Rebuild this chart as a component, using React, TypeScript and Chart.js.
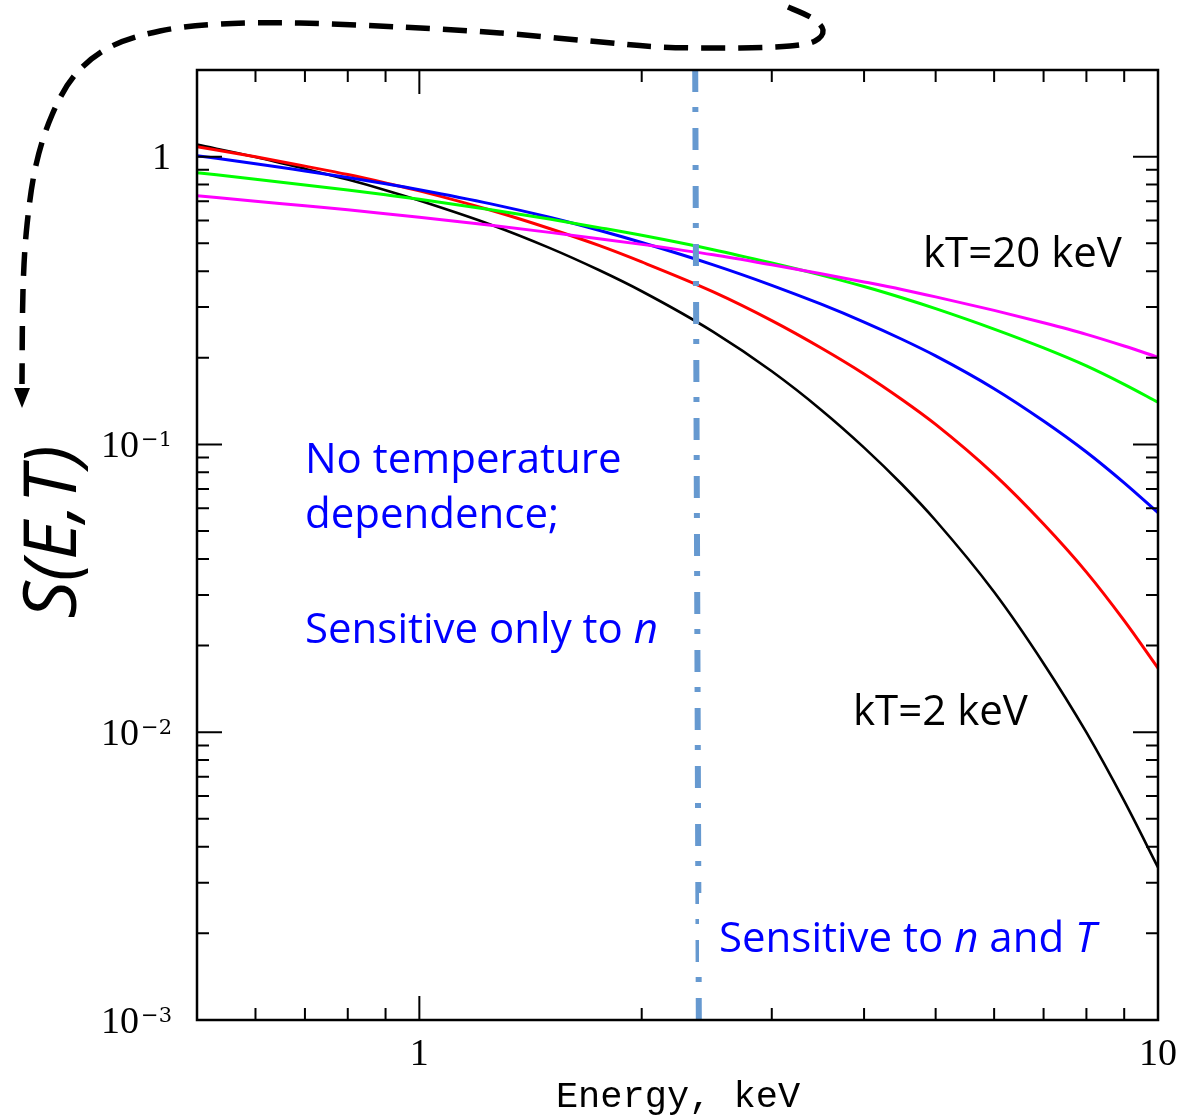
import { useEffect, useRef } from 'react';
import { Chart, registerables } from 'chart.js';

Chart.register(...registerables);

// ---------- data ----------
const energies = [0.5, 0.6, 0.7, 0.8, 0.9, 1, 1.25, 1.5, 1.75, 2, 2.5, 3, 3.5, 4, 4.5, 5, 6, 7, 8, 9, 10];
const sBlack = [1.101, 0.9976, 0.9075, 0.8322, 0.7646, 0.7037, 0.5800, 0.4819, 0.4036, 0.3406, 0.2461, 0.1795, 0.1318, 0.0975, 0.0727, 0.0544, 0.0307, 0.01734, 0.00998, 0.00577, 0.00339];
const sRed = [1.0835, 0.9992, 0.9267, 0.8662, 0.8101, 0.7602, 0.6509, 0.5626, 0.4914, 0.4306, 0.3390, 0.2694, 0.2164, 0.1758, 0.1433, 0.1174, 0.0787, 0.0529, 0.0360, 0.02442, 0.01671];
const sBlue = [1.008, 0.9454, 0.8913, 0.8463, 0.8051, 0.7675, 0.6854, 0.6154, 0.5548, 0.5030, 0.4207, 0.3572, 0.3070, 0.2661, 0.2320, 0.2031, 0.1562, 0.1206, 0.0941, 0.0735, 0.0579];
const sGreen = [0.8796, 0.8348, 0.7975, 0.7656, 0.7366, 0.7107, 0.6540, 0.6070, 0.5667, 0.5327, 0.4748, 0.4268, 0.3876, 0.3537, 0.3233, 0.2963, 0.2516, 0.2164, 0.1874, 0.1617, 0.1401];
const sMagenta = [0.7314, 0.7003, 0.6745, 0.6532, 0.6335, 0.6160, 0.5776, 0.5455, 0.5187, 0.4956, 0.4558, 0.4207, 0.3917, 0.3670, 0.3456, 0.3257, 0.2922, 0.2646, 0.2412, 0.2197, 0.2009];

// boundary between regimes (dash-dot line)
const boundaryEnergy = [2.363, 2.39];
const boundaryS = [2, 0.00093];

// axes
const xMin = 0.5, xMax = 10;
const yMin = 0.001, yMax = 2;
const xTickValues = [0.5, 0.6, 0.7, 0.8, 0.9, 1, 2, 3, 4, 5, 6, 7, 8, 9, 10];
const xLabelValues = [1, 10];
const xLabelTexts = ['1', '10'];
const yTickValues = [
  0.001, 0.002, 0.003, 0.004, 0.005, 0.006, 0.007, 0.008, 0.009,
  0.01, 0.02, 0.03, 0.04, 0.05, 0.06, 0.07, 0.08, 0.09,
  0.1, 0.2, 0.3, 0.4, 0.5, 0.6, 0.7, 0.8, 0.9,
  1, 2,
];
const yLabelValues = [1, 0.1, 0.01, 0.001];
const yLabelBases = ['1', '10', '10', '10'];
const yLabelExps = ['', '\u22121', '\u22122', '\u22123'];

const SANS = '"Open Sans", "Noto Sans", sans-serif';
const SERIF = '"Liberation Serif", "DejaVu Serif", serif';
const EXPSERIF = '"DejaVu Serif", "Liberation Serif", serif';
const MONO = '"Liberation Mono", "DejaVu Sans Mono", monospace';
const BLUE_TXT = '#0000ff';

type Seg = { t: string; i?: boolean };

function drawRich(ctx: CanvasRenderingContext2D, segs: Seg[], x: number, y: number, size: number, color: string) {
  ctx.fillStyle = color;
  ctx.textAlign = 'left';
  ctx.textBaseline = 'alphabetic';
  let cx = x;
  for (const s of segs) {
    ctx.font = `${s.i ? 'italic ' : ''}${size}px ${SANS}`;
    ctx.fillText(s.t, cx, y);
    cx += ctx.measureText(s.t).width;
  }
}

function smoothPath(ctx: CanvasRenderingContext2D, pts: number[][]) {
  ctx.moveTo(pts[0][0], pts[0][1]);
  for (let i = 0; i < pts.length - 1; i++) {
    const p0 = pts[i - 1] || pts[i];
    const p1 = pts[i];
    const p2 = pts[i + 1];
    const p3 = pts[i + 2] || p2;
    ctx.bezierCurveTo(
      p1[0] + (p2[0] - p0[0]) / 6, p1[1] + (p2[1] - p0[1]) / 6,
      p2[0] - (p3[0] - p1[0]) / 6, p2[1] - (p3[1] - p1[1]) / 6,
      p2[0], p2[1]
    );
  }
}

const decorPlugin = {
  id: 'decor',
  afterDraw(chart: any) {
    const { ctx, chartArea: a, scales } = chart;
    const xs = scales.x;
    const ys = scales.y;
    ctx.save();

    // white box behind lower-right annotation
    ctx.fillStyle = '#ffffff';
    ctx.fillRect(699, 893, 408, 80);

    // annotations
    const fs = 42;
    drawRich(ctx, [{ t: 'No temperature' }], 305, 473, fs, BLUE_TXT);
    drawRich(ctx, [{ t: 'dependence;' }], 305, 528, fs, BLUE_TXT);
    drawRich(ctx, [{ t: 'Sensitive only to ' }, { t: 'n', i: true }], 305, 643, fs, BLUE_TXT);
    drawRich(ctx, [{ t: 'Sensitive to ' }, { t: 'n', i: true }, { t: ' and ' }, { t: 'T', i: true }], 719, 952, fs, BLUE_TXT);
    drawRich(ctx, [{ t: 'kT=20 keV' }], 923, 267, fs, '#000000');
    drawRich(ctx, [{ t: 'kT=2 keV' }], 853, 725, fs, '#000000');

    // frame
    ctx.strokeStyle = '#000';
    ctx.lineWidth = 2.5;
    ctx.setLineDash([]);
    ctx.strokeRect(a.left, a.top, a.right - a.left, a.bottom - a.top);

    // ticks
    ctx.lineWidth = 2;
    ctx.beginPath();
    xs.ticks.forEach((t: any) => {
      const px = xs.getPixelForValue(t.value);
      const len = xLabelValues.includes(t.value) ? 24 : 12;
      ctx.moveTo(px, a.bottom); ctx.lineTo(px, a.bottom - len);
      ctx.moveTo(px, a.top); ctx.lineTo(px, a.top + len);
    });
    ys.ticks.forEach((t: any) => {
      const py = ys.getPixelForValue(t.value);
      const len = yLabelValues.includes(t.value) ? 25 : 12;
      ctx.moveTo(a.left, py); ctx.lineTo(a.left + len, py);
      ctx.moveTo(a.right, py); ctx.lineTo(a.right - len, py);
    });
    ctx.stroke();

    // tick labels
    ctx.fillStyle = '#000';
    ctx.textBaseline = 'alphabetic';
    xLabelValues.forEach((v, i) => {
      const px = xs.getPixelForValue(v);
      ctx.font = `38px ${SERIF}`;
      ctx.textAlign = 'center';
      ctx.fillText(xLabelTexts[i], px, 1065);
    });
    yLabelValues.forEach((v, i) => {
      const py = ys.getPixelForValue(v);
      let right = 172;
      if (yLabelExps[i]) {
        ctx.font = `21px ${EXPSERIF}`;
        ctx.textAlign = 'right';
        ctx.fillText(yLabelExps[i], right, py + 2);
        right -= ctx.measureText(yLabelExps[i]).width + 2;
      } else {
        right = 171;
      }
      ctx.font = `38px ${SERIF}`;
      ctx.textAlign = 'right';
      ctx.fillText(yLabelBases[i], right, py + 12.5);
    });

    // axis titles
    ctx.font = `37px ${MONO}`;
    ctx.textAlign = 'center';
    ctx.fillText('Energy, keV', 678, 1107);

    ctx.save();
    ctx.translate(76, 532);
    ctx.rotate(-Math.PI / 2);
    ctx.font = `italic 74px ${SANS}`;
    ctx.textAlign = 'center';
    ctx.fillText('S(E,T)', 0, 0);
    ctx.restore();

    // dashed curved arrow
    const pts = [
      [788, 7], [812, 18], [823, 30], [815, 41], [790, 46], [740, 48], [660, 47], [590, 41],
      [500, 33], [400, 27], [300, 23], [220, 24], [160, 31], [110, 47], [75, 75], [52, 115],
      [36, 165], [27, 225], [23, 290], [22, 384],
    ];
    ctx.strokeStyle = '#000';
    ctx.lineWidth = 5.5;
    ctx.setLineDash([24, 13]);
    ctx.beginPath();
    smoothPath(ctx, pts);
    ctx.stroke();
    ctx.setLineDash([]);
    ctx.fillStyle = '#000';
    ctx.beginPath();
    ctx.moveTo(22, 408);
    ctx.lineTo(14, 388);
    ctx.lineTo(30, 388);
    ctx.closePath();
    ctx.fill();

    ctx.restore();
  },
};

function series(vals: number[]) {
  return energies.map((e, i) => ({ x: e, y: vals[i] }));
}

export default function App() {
  const ref = useRef<HTMLCanvasElement>(null);

  useEffect(() => {
    document.body.style.margin = '0';
    const canvas = ref.current!;
    const lineDs = (label: string, vals: number[], color: string, w: number) => ({
      label,
      data: series(vals),
      borderColor: color,
      backgroundColor: color,
      borderWidth: w,
      pointRadius: 0,
      fill: false,
      cubicInterpolationMode: 'monotone' as const,
      order: 1,
    });
    const chart = new Chart(canvas, {
      type: 'line',
      data: {
        datasets: [
          lineDs('kT=20 keV', sMagenta, '#ff00ff', 3),
          lineDs('green', sGreen, '#00ff00', 3),
          lineDs('blue', sBlue, '#0000ff', 3),
          lineDs('red', sRed, '#ff0000', 3),
          lineDs('kT=2 keV', sBlack, '#000000', 2.6),
          {
            label: 'boundary',
            data: boundaryEnergy.map((e, i) => ({ x: e, y: boundaryS[i] })),
            borderColor: 'rgb(102,153,208)',
            borderWidth: 6,
            borderDash: [22, 15, 5, 16],
            pointRadius: 0,
            fill: false,
            clip: false as any,
            order: 0,
          } as any,
        ],
      },
      options: {
        animation: false,
        responsive: false,
        maintainAspectRatio: false,
        devicePixelRatio: 1,
        parsing: false as any,
        layout: { padding: { left: 0, right: 23, top: 70, bottom: 0 } },
        plugins: {
          legend: { display: false },
          title: { display: false },
          tooltip: { enabled: false },
        },
        events: [],
        scales: {
          x: {
            type: 'logarithmic',
            min: xMin,
            max: xMax,
            grid: { display: false },
            border: { display: false },
            ticks: { display: false },
            afterBuildTicks: (s: any) => {
              s.ticks = xTickValues.map((v) => ({ value: v }));
            },
            afterFit: (s: any) => {
              s.height = 98;
            },
          },
          y: {
            type: 'logarithmic',
            min: yMin,
            max: yMax,
            grid: { display: false },
            border: { display: false },
            ticks: { display: false },
            afterBuildTicks: (s: any) => {
              s.ticks = yTickValues.map((v) => ({ value: v }));
            },
            afterFit: (s: any) => {
              s.width = 197;
            },
          },
        },
      } as any,
      plugins: [decorPlugin],
    });
    return () => chart.destroy();
  }, []);

  return (
    <div style={{ width: 1181, height: 1118 }}>
      <canvas ref={ref} width={1181} height={1118} style={{ display: 'block', width: 1181, height: 1118 }} />
    </div>
  );
}
